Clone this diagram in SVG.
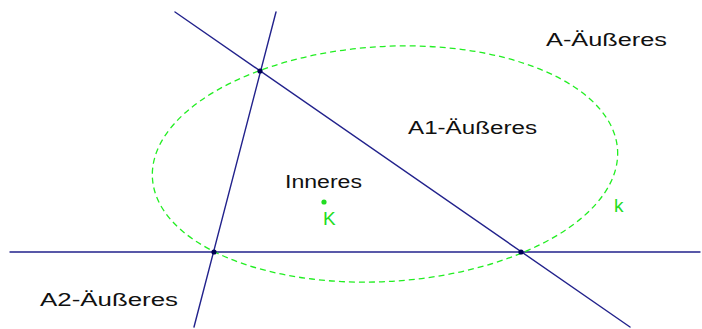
<svg xmlns="http://www.w3.org/2000/svg" width="702" height="329" viewBox="0 0 702 329">
  <style>
    .ln { stroke: #22228c; stroke-width: 1.4; fill: none; stroke-linecap: round; }
    .circ { stroke: #22ee22; stroke-width: 1.3; fill: none; stroke-dasharray: 6 4; }
    .pt { fill: #000055; }
    .lbl { font-family: "Liberation Sans", "DejaVu Sans", sans-serif; font-size: 18px; fill: #111111; }
    .glbl { font-family: "Liberation Sans", "DejaVu Sans", sans-serif; font-size: 19px; fill: #22dd22; }
  </style>
  <rect width="702" height="329" fill="#ffffff"/>
  <g id="connectors">
    <line class="ln" x1="10" y1="252" x2="700" y2="252"/>
    <line class="ln" x1="276" y1="12" x2="194" y2="327"/>
    <line class="ln" x1="175" y1="12" x2="630" y2="327"/>
  </g>
  <g id="circle-k">
    <ellipse class="circ" cx="385" cy="164" rx="233" ry="117.5" transform="rotate(-3.5 385 164)"/>
    <text class="glbl" x="614" y="212">k</text>
  </g>
  <g id="points">
    <circle class="pt" cx="260" cy="71" r="2.6"/>
    <circle class="pt" cx="214" cy="252" r="2.6"/>
    <circle class="pt" cx="521" cy="252" r="2.6"/>
  </g>
  <g id="center-K">
    <circle cx="324" cy="202" r="2.6" fill="#22dd22"/>
    <text class="glbl" x="323" y="225">K</text>
  </g>
  <g id="label-A">
    <text class="lbl" x="546" y="46" textLength="121" lengthAdjust="spacingAndGlyphs">A-Äußeres</text>
  </g>
  <g id="label-A1">
    <text class="lbl" x="408" y="134" textLength="129" lengthAdjust="spacingAndGlyphs">A1-Äußeres</text>
  </g>
  <g id="label-Inneres">
    <text class="lbl" x="285" y="188" textLength="77" lengthAdjust="spacingAndGlyphs">Inneres</text>
  </g>
  <g id="label-A2">
    <text class="lbl" x="40" y="306" textLength="138" lengthAdjust="spacingAndGlyphs">A2-Äußeres</text>
  </g>
</svg>
